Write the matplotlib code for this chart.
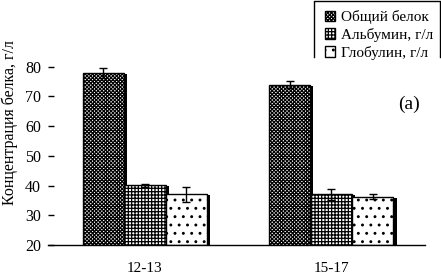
import matplotlib.pyplot as plt
import numpy as np
from matplotlib.lines import Line2D
from matplotlib.patches import Patch

plt.rcParams["font.family"] = ["Liberation Serif", "DejaVu Serif"]
plt.rcParams["hatch.linewidth"] = 0.9

groups = ["12-13", "15-17"]
series = ["Общий белок", "Альбумин, г/л", "Глобулин, г/л"]
values = [
    [77.8, 73.9],
    [40.1, 37.1],
    [37.1, 36.3],
]
errors = [
    [1.6, 1.1],
    [0.5, 1.8],
    [2.5, 0.9],
]
hatches = ["xxxxxxxxx", "+++++", ".."]

fig = plt.figure(figsize=(4.41, 2.77), dpi=100)
ax = fig.add_axes([0.109, 0.1155, 0.855, 0.644])

x = np.arange(len(groups))
w = 0.223
offsets = [-w, 0, w]
for i in range(3):
    # тень справа от столбца
    ax.bar(x + offsets[i] + 0.017, np.array(values[i]) - 20.4, w, bottom=20,
           color="black", linewidth=0, zorder=1)
for i in range(3):
    ax.bar(x + offsets[i], np.array(values[i]) - 20, w, bottom=20,
           color="white", edgecolor="black", hatch=hatches[i], linewidth=1.0,
           zorder=2)
    ax.errorbar(x + offsets[i], values[i], yerr=errors[i], fmt="none",
                ecolor="black", elinewidth=1.0, capsize=3, capthick=1.0,
                zorder=3)

ax.set_xlim(-0.52, 1.505)
ax.set_ylim(20, 80)
ax.set_yticks(range(20, 81, 10))
ax.set_xticks(x)
ax.set_xticklabels(groups, fontsize=11)
ax.tick_params(axis="y", labelsize=11.5, direction="in", length=4, width=1, pad=5)
ax.tick_params(axis="x", length=0, pad=12)
for s in ["top", "right", "left"]:
    ax.spines[s].set_visible(False)
ax.spines["bottom"].set_linewidth(1.0)
fig.text(0.022, 0.556, "Концентрация белка, г/л", fontsize=11.5,
         rotation=90, ha="center", va="center")
ax.text(0.957, 0.786, "(a)", transform=ax.transAxes, fontsize=14,
        ha="center", va="center")

# легенда в рамке, открытой снизу
handles = [Patch(facecolor="white", edgecolor="black", hatch=h) for h in hatches]
fig.legend(handles, series, loc="upper left", bbox_to_anchor=(0.722, 0.985),
           frameon=False, fontsize=11, handlelength=0.7, handleheight=0.7,
           handletextpad=0.4, labelspacing=0.25, borderaxespad=0)
fig.add_artist(Line2D([0.711, 0.711, 0.998, 0.998], [0.795, 0.997, 0.997, 0.795],
                      transform=fig.transFigure, color="black", linewidth=1.0))

fig.savefig("out.png", dpi=100)
